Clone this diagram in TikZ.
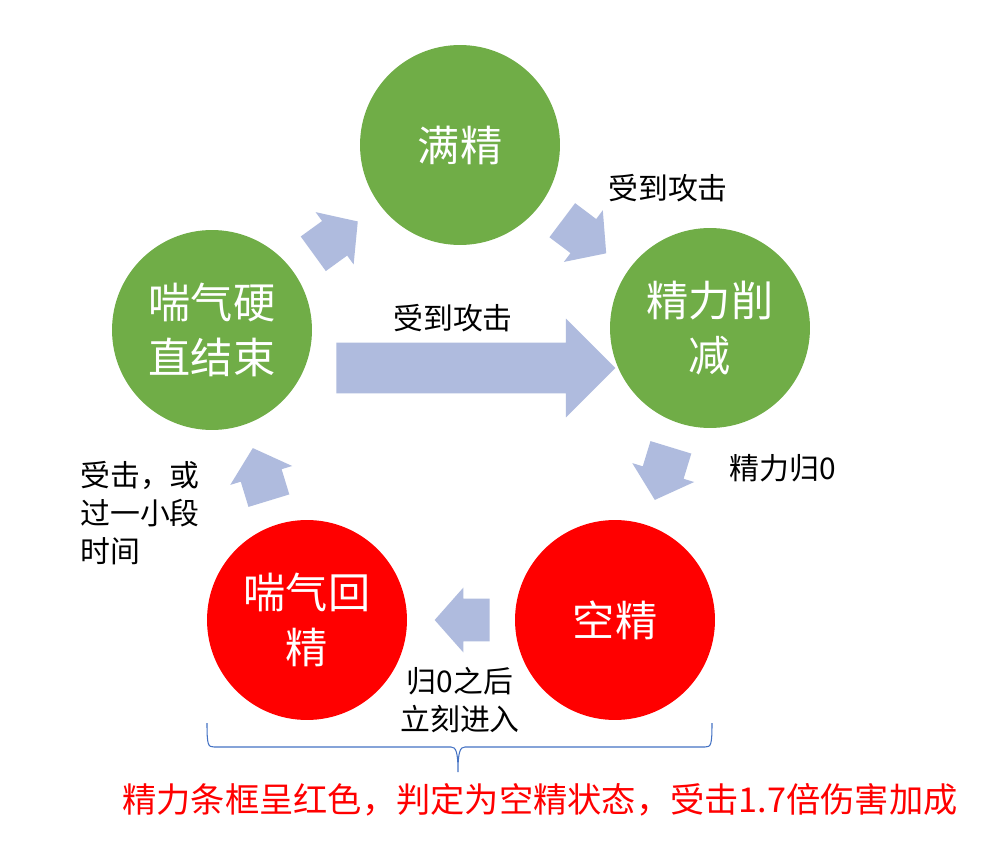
\documentclass[tikz,border=0pt]{standalone}
\usepackage{fontspec}
\setmainfont{Noto Sans CJK SC}
\usetikzlibrary{shapes.arrows}
\definecolor{stgreen}{RGB}{112,173,71}
\definecolor{stred}{RGB}{255,0,0}
\definecolor{flow}{RGB}{175,187,222}
\definecolor{bracecol}{RGB}{68,114,196}

\begin{document}
\begin{tikzpicture}[x=0.02cm, y=-0.02cm,
  state/.style={circle, minimum size=4cm, inner sep=0, text=white, align=center,
                font=\fontsize{24}{31}\selectfont},
  bigflow/.style={single arrow, fill=flow, inner xsep=0, inner ysep=0.5cm,
                  minimum height=5.58cm, single arrow head extend=0.48cm,
                  single arrow tip angle=90, anchor=tail},
  flowarr/.style={single arrow, fill=flow, inner xsep=0, inner ysep=0.42cm,
                  minimum height=1.1cm, single arrow head extend=0.22cm,
                  single arrow tip angle=97, anchor=tail},
  note/.style={font=\fontsize{17}{21.5}\selectfont, inner sep=0, align=center}]
  \fill[white] (0,0) rectangle (1002,855);
  \useasboundingbox (0,0) rectangle (1002,855);

  \node (full)    at (460,145) [state, fill=stgreen] {满精};
  \node (reduce)  at (710,328) [state, fill=stgreen] {精力削\\减};
  \node (empty)   at (615,620) [state, fill=stred]   {空精};
  \node (regen)   at (307,620) [state, fill=stred]   {喘气回\\精};
  \node (stagger) at (212,330) [state, fill=stgreen] {喘气硬\\直结束};

  \node (hit)  at (336,368) [bigflow] {};
  \node (arr1) at (313,254) [flowarr, rotate=36] {};
  \node (arr2) at (562,220) [flowarr, rotate=-37] {};
  \node (arr3) at (671,447) [flowarr, rotate=-107] {};
  \node (arr4) at (490,620) [flowarr, rotate=180] {};
  \node (arr5) at (269,501) [flowarr, rotate=107] {};

  \node (lbl1) at (668,188) [note] {受到攻击};
  \node (lbl2) at (453,318) [note] {受到攻击};
  \node (lbl3) at (783,468) [note] {精力归0};
  \node (lbl4) at (80,513) [note, align=left, anchor=west] {受击，或\\过一小段\\时间};
  \node (lbl5) at (460,700) [note] {归0之后\\立刻进入};

  %\draw[bracecol, line width=0.6pt] (207,724) -- (712,724);
  \draw[bracecol, line width=0.6pt]
    (207,723) .. controls (207,745) and (208,747) .. (214,747) -- (451,747)
    .. controls (456,747) and (458,752) .. (458,772)
    .. controls (458,752) and (460,747) .. (465,747) -- (705,747)
    .. controls (711,747) and (712,745) .. (712,723);
  \node (verdict) at (540,800) [inner sep=0, text=stred, font=\fontsize{19.5}{24}\selectfont]
    {精力条框呈红色，判定为空精状态，受击1.7倍伤害加成};
\end{tikzpicture}
\end{document}
